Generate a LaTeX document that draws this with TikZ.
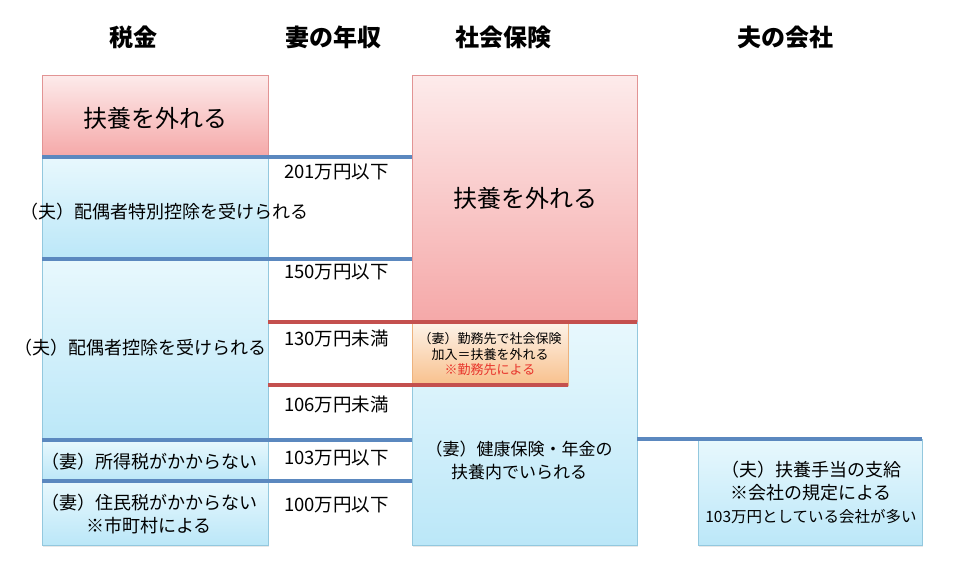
\documentclass[tikz,border=0pt]{standalone}
\usepackage{fontspec}
\setmainfont{Noto Sans CJK JP}
\usetikzlibrary{shadows}

\definecolor{pinktop}{HTML}{FDEBEB}
\definecolor{pinkbot}{HTML}{F5A8A8}
\definecolor{pinkedge}{HTML}{E29494}
\definecolor{skytop}{HTML}{E8F8FD}
\definecolor{skybot}{HTML}{BBE7F8}
\definecolor{skyedge}{HTML}{93C8DE}
\definecolor{peachtop}{HTML}{FDF3E9}
\definecolor{peachbot}{HTML}{F8C08C}
\definecolor{peachedge}{HTML}{EDB27E}
\definecolor{rulebl}{HTML}{5B88BF}
\definecolor{rulerd}{HTML}{C4504E}
\definecolor{notered}{HTML}{E8352C}

\begin{document}
\begin{tikzpicture}[x=1pt, y=-1pt,
  every node/.style={inner sep=0pt, outer sep=0pt},
  box/.style={line width=0.6pt, anchor=north west,
    drop shadow={opacity=0.18, shadow xshift=1pt, shadow yshift=-1.5pt}},
  redbox/.style={box, draw=pinkedge, top color=pinktop, bottom color=pinkbot},
  bluebox/.style={box, draw=skyedge, top color=skytop, bottom color=skybot},
  peachbox/.style={box, draw=peachedge, top color=peachtop, bottom color=peachbot},
  bluerule/.style={rulebl, line width=4pt},
  redrule/.style={rulerd, line width=4pt},
  head/.style={font=\fontsize{24}{28}\selectfont\bfseries},
  big/.style={font=\fontsize{24}{28}\selectfont},
  txt/.style={font=\fontsize{18}{23}\selectfont, align=center},
  income/.style={font=\fontsize{18.5}{22}\selectfont, anchor=west}]
  \useasboundingbox (0,0) rectangle (960,579);

  % column heads
  \node[head] (hTax) at (133,37) {税金};
  \node[head] (hPay) at (333,37) {妻の年収};
  \node[head] (hSoc) at (503,37) {社会保険};
  \node[head] (hCom) at (785,37) {夫の会社};

  % tax column
  \node[redbox, minimum width=226, minimum height=82] (taxOut) at (42,75) {};
  \node[bluebox, minimum width=226, minimum height=102] (taxSpec) at (42,157) {};
  \node[bluebox, minimum width=226, minimum height=181] (taxDed) at (42,259) {};
  \node[bluebox, minimum width=226, minimum height=41] (taxInc) at (42,440) {};
  \node[bluebox, minimum width=226, minimum height=64] (taxRes) at (42,481) {};

  % social insurance column
  \node[redbox, minimum width=225, minimum height=247] (socOut) at (412,75) {};
  \node[bluebox, minimum width=225, minimum height=223] (socIn) at (412,322) {};
  \node[peachbox, minimum width=156, minimum height=63] (socWork) at (412,322) {};

  % husband's company
  \node[bluebox, minimum width=224, minimum height=106] (com) at (698,439) {};

  % dividing rules
  \draw[bluerule] (taxSpec.north west) -- (taxSpec.north west -| socOut.west);
  \draw[bluerule] (taxDed.north west) -- (taxDed.north west -| socOut.west);
  \draw[bluerule] (taxInc.north west) -- (taxInc.north west -| socIn.west);
  \draw[bluerule] (taxRes.north west) -- (taxRes.north west -| socIn.west);
  \draw[bluerule] (socIn.east |- com.north) -- (com.north east);
  \draw[redrule] (taxDed.east |- socIn.north) -- (socIn.north east);
  \draw[redrule] (taxDed.east |- socWork.south) -- (socWork.south east);

  % texts
  \node[big] (lTaxOut) at (155,118) {扶養を外れる};
  \node[txt] (lSpec) at (164,212) {（夫）配偶者特別控除を受けられる};
  \node[txt] (lDed) at (140,348) {（夫）配偶者控除を受けられる};
  \node[txt] (lInc) at (149,462) {（妻）所得税がかからない};
  \node[txt] (lRes) at (149,514) {（妻）住民税がかからない\\※市町村による};
  \node[big] (lSocOut) at (525,198) {扶養を外れる};
  \node[font=\fontsize{13}{15.5}\selectfont, align=center] (lWork) at (490,354)
    {（妻）勤務先で社会保険\\加入＝扶養を外れる\\\textcolor{notered}{※勤務先による}};
  \node[txt, font=\fontsize{17}{23}\selectfont] (lSocIn) at (519,460) {（妻）健康保険・年金の\\扶養内でいられる};
  \node[txt] (lCom) at (811,492) {（夫）扶養手当の支給\\※会社の規定による\\{\fontsize{15.5}{18}\selectfont 103万円としている会社が多い}};

  % wife's income
  \node[income] (i201) at (284,172) {201万円以下};
  \node[income] (i150) at (284,272) {150万円以下};
  \node[income] (i130) at (284,338) {130万円未満};
  \node[income] (i106) at (284,404) {106万円未満};
  \node[income] (i103) at (284,458) {103万円以下};
  \node[income] (i100) at (284,505) {100万円以下};
\end{tikzpicture}
\end{document}
